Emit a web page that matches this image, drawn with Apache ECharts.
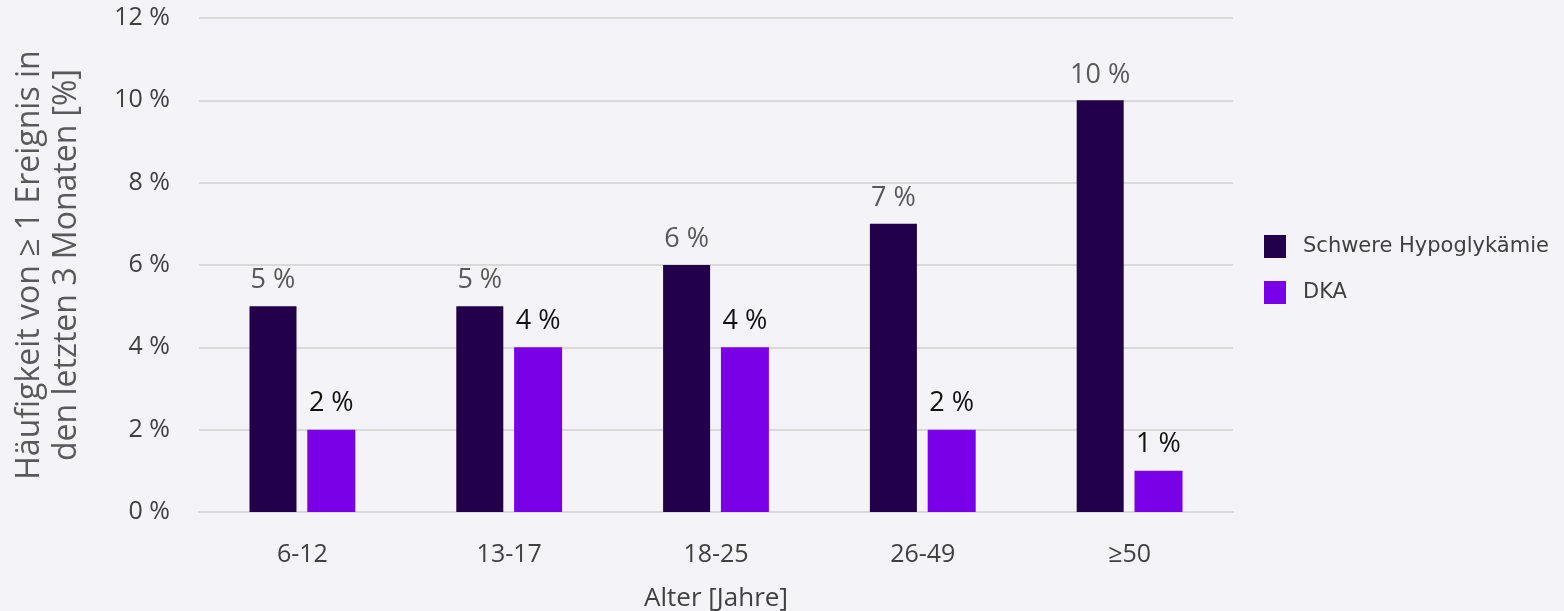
<!DOCTYPE html>
<html>
<head>
<meta charset="utf-8">
<script src="https://cdn.jsdelivr.net/npm/echarts@6/dist/echarts.min.js"></script>
<style>
  html, body { margin: 0; padding: 0; background: #F4F3F8; }
  #chart { width: 1564px; height: 611px; }
</style>
</head>
<body>
<div id="chart"></div>
<script>
// Age groups and share of people with at least one event in the last 3 months (%)
const categories = ['6-12', '13-17', '18-25', '26-49', '≥50'];
const hypoValues = [5, 5, 6, 7, 10];
const dkaValues = [2, 4, 4, 2, 1];
const seriesNames = ['Schwere Hypoglykämie', 'DKA'];
const yTicks = [0, 2, 4, 6, 8, 10, 12];

const FONT = '"Open Sans", sans-serif';

const chart = echarts.init(document.getElementById('chart'));
chart.setOption({
  backgroundColor: '#F4F3F8',
  animation: false,
  grid: { left: 199, right: 331, top: 18, bottom: 99, containLabel: false, outerBoundsMode: 'none' },
  legend: {
    orient: 'vertical',
    left: 1259,
    top: 230,
    itemWidth: 22,
    itemHeight: 23,
    itemGap: 23,
    icon: 'rect',
    textStyle: { fontFamily: '"DejaVu Sans", Verdana, sans-serif', fontSize: 21, color: '#404040', padding: [0, 0, 0, 12] },
    data: seriesNames
  },
  xAxis: {
    type: 'category',
    data: categories,
    axisTick: { show: false },
    axisLine: { show: true, lineStyle: { color: '#D9D9D9', width: 2 } },
    axisLabel: { fontFamily: FONT, fontSize: 25, color: '#404040', margin: 30 },
    name: 'Alter [Jahre]',
    nameLocation: 'middle',
    nameGap: 74,
    nameTextStyle: { fontFamily: FONT, fontSize: 26, color: '#404040' }
  },
  yAxis: {
    type: 'value',
    min: yTicks[0],
    max: yTicks[yTicks.length - 1],
    interval: 2,
    axisLine: { show: false },
    axisTick: { show: false },
    splitLine: { lineStyle: { color: '#D9D9D9', width: 2 } },
    axisLabel: { fontFamily: FONT, fontSize: 25, color: '#404040', margin: 29, formatter: v => v + ' %' },
    name: 'Häufigkeit von ≥ 1 Ereignis in\nden letzten 3 Monaten [%]',
    nameLocation: 'middle',
    nameRotate: 90,
    nameGap: 114,
    nameTextStyle: { fontFamily: FONT, fontSize: 32, color: '#595959', lineHeight: 37, align: 'center' }
  },
  series: [
    {
      name: seriesNames[0],
      type: 'bar',
      data: hypoValues,
      barWidth: 47,
      barGap: '23%',
      itemStyle: { color: '#22004A' },
      label: {
        show: true, position: 'top', distance: 12,
        fontFamily: FONT, fontSize: 27, color: '#595959',
        formatter: p => p.value + ' %'
      }
    },
    {
      name: seriesNames[1],
      type: 'bar',
      data: dkaValues,
      barWidth: 48,
      itemStyle: { color: '#7A00E6' },
      label: {
        show: true, position: 'top', distance: 13,
        fontFamily: FONT, fontSize: 27, color: '#111111',
        formatter: p => p.value + ' %'
      }
    }
  ]
});
</script>
</body>
</html>
